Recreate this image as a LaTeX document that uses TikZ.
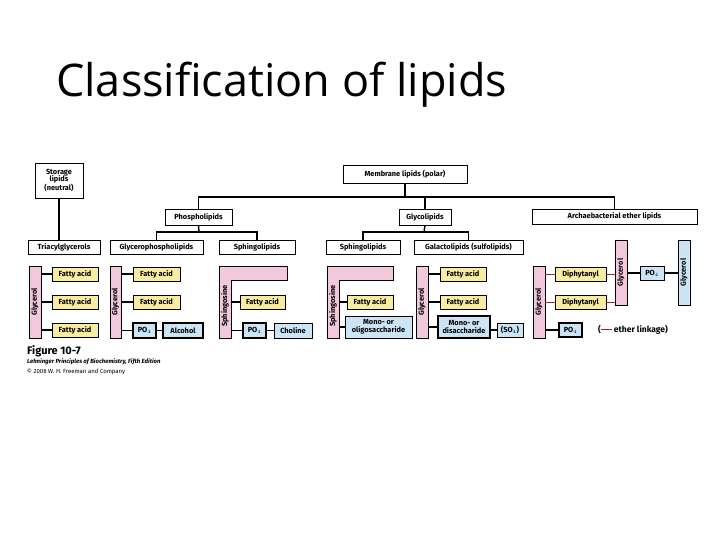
\documentclass[tikz,border=0pt]{standalone}
\usepackage{fontspec}
\setmainfont{Open Sans}
\newfontfamily\lab{Fira Sans}
\begin{document}
\begin{tikzpicture}[x=1pt,y=1pt,
  base/.style={draw=black,line width=0.6pt,inner sep=0pt,font=\lab\bfseries\fontsize{7.4}{7.8}\selectfont,align=center},
  wb/.style={base,fill=white},
  fa/.style={base,fill=fayel},
  pk/.style={base,fill=pinkc},
  bl/.style={base,fill=bluec},
  blk/.style={base,fill=bluec,line width=1.3pt},
  con/.style={draw=black,line width=1.4pt},
  vt/.style={rotate=90,font=\lab\bfseries\fontsize{7.4}{7.8}\selectfont,inner sep=0pt}]
\definecolor{fayel}{HTML}{F8EBA2}
\definecolor{pinkc}{HTML}{F1C8DC}
\definecolor{bluec}{HTML}{CBE5F6}
\definecolor{ethred}{HTML}{8E2A2A}
\newcommand\BX[7]{\node[#1,minimum width={#5pt-#3pt},minimum height={#6pt-#4pt}] (#2) at ({(#3+#5)/2},{540-(#4+#6)/2}) {#7};}
% horizontal connector as a filled bar between two named points
\newcommand\HL[3][black]{\fill[#1] ([shift={(-0.7pt,-0.7pt)}]#2) rectangle ([shift={(0.7pt,0.7pt)}]#3);}
\newcommand\HE[2]{\fill[ethred] ([shift={(0pt,-0.45pt)}]#1) rectangle ([shift={(0pt,0.45pt)}]#2);}
\useasboundingbox (0,0) rectangle (720,540);
\node[font=\fontsize{45}{50}\selectfont,anchor=base west,inner sep=0pt] (title) at (56,443) {Classification of lipids};
% top level
\BX{wb}{st}{35}{163}{83}{198}{Storage\\lipids\\(neutral)}
\BX{wb}{mem}{343}{165}{467}{183}{Membrane lipids (polar)}
\BX{wb}{pho}{165}{209}{232}{225}{Phospholipids}
\BX{wb}{gly}{399}{209}{451}{225}{Glycolipids}
\BX{wb}{arc}{532}{209}{697}{224}{Archaebacterial ether lipids}
\BX{wb}{tri}{28}{240}{100}{254}{Triacylglycerols}
\BX{wb}{gph}{110}{240}{203}{254}{Glycerophospholipids}
\BX{wb}{sp1}{219}{240}{295}{254}{Sphingolipids}
\BX{wb}{sp2}{326}{240}{400}{254}{Sphingolipids}
\BX{wb}{gal}{414}{240}{523}{254}{Galactolipids (sulfolipids)}
\draw[con] (st.south) -- (st.south |- tri.north);
\coordinate (h1) at (405,343);
\coordinate (a1) at (pho.north |- h1);
\coordinate (a2) at (arc.north |- h1);
\draw[con] (mem.south) -- (h1);
\draw[con] (pho.north) -- (a1);
\draw[con] (arc.north) -- (a2);
\HL{a1}{a2}
\draw[con] (gly.north) -- (gly.north |- h1);
\coordinate (h2) at (199,308);
\coordinate (b1) at (gph.north |- h2);
\coordinate (b2) at (sp1.north |- h2);
\draw[con] (pho.south) -- (h2);
\draw[con] (gph.north) -- (b1);
\draw[con] (sp1.north) -- (b2);
\HL{b1}{b2}
\coordinate (h3) at (424,308);
\coordinate (c1) at (sp2.north |- h3);
\coordinate (c2) at (gal.north |- h3);
\draw[con] (gly.south) -- (h3);
\draw[con] (sp2.north) -- (c1);
\draw[con] (gal.north) -- (c2);
\HL{c1}{c2}
% group 1
\BX{pk}{g1}{29}{266}{41}{338}{}
\node[vt] at (g1) {Glycerol};
\BX{fa}{f11}{52}{267}{98}{281}{Fatty acid}
\BX{fa}{f12}{52}{295}{98}{309}{Fatty acid}
\BX{fa}{f13}{52}{323}{98}{337}{Fatty acid}
\foreach \f in {f11,f12,f13} {\coordinate (q) at (g1.east |- \f.west); \HL{q}{\f.west}}
% group 2
\BX{pk}{g2}{110}{266}{121}{338}{}
\node[vt] at (g2) {Glycerol};
\BX{fa}{f21}{133}{267}{180}{281}{Fatty acid}
\BX{fa}{f22}{133}{295}{180}{309}{Fatty acid}
\BX{blk}{p2}{133}{323}{156}{338}{PO$_4$}
\BX{blk}{al}{163}{323}{203}{338}{Alcohol}
\foreach \f in {f21,f22,p2} {\coordinate (q) at (g2.east |- \f.west); \HL{q}{\f.west}}
\HL{p2.east}{al.west}
% group 3
\filldraw[fill=pinkc,line width=0.6pt] (219,274) -- (287,274) -- (287,260) -- (231,260) -- (231,202) -- (219,202) -- cycle;
\BX{base,draw=none}{s3}{219}{280}{231}{338}{}
\node[vt] at (225,234) {Sphingosine};
\BX{fa}{f31}{240}{295}{285}{309}{Fatty acid}
\BX{blk}{p3}{243}{323}{266}{338}{PO$_4$}
\BX{bl}{ch}{274}{323}{312}{338}{Choline}
\foreach \f in {f31,p3} {\coordinate (q) at (s3.east |- \f.west); \HL{q}{\f.west}}
\HL{p3.east}{ch.west}
% group 4
\filldraw[fill=pinkc,line width=0.6pt] (327,274) -- (393,274) -- (393,260) -- (339,260) -- (339,202) -- (327,202) -- cycle;
\BX{base,draw=none}{s4}{327}{280}{339}{338}{}
\node[vt] at (333,234) {Sphingosine};
\BX{fa}{f41}{347}{295}{393}{309}{Fatty acid}
\BX{bl}{mo}{345}{316}{412}{338}{Mono- or\\oligosaccharide}
\foreach \f in {f41,mo} {\coordinate (q) at (s4.east |- \f.west); \HL{q}{\f.west}}
% group 5
\BX{pk}{g5}{416}{266}{428}{338}{}
\node[vt] at (g5) {Glycerol};
\BX{fa}{f51}{440}{267}{486}{281}{Fatty acid}
\BX{fa}{f52}{440}{295}{486}{309}{Fatty acid}
\BX{blk}{md}{438}{316}{490}{338}{Mono- or\\disaccharide}
\BX{bl}{so}{497}{323}{523}{337}{(SO$_4$)}
\foreach \f in {f51,f52,md} {\coordinate (q) at (g5.east |- \f.west); \HL{q}{\f.west}}
\coordinate (q5) at (md.east |- so.west);
\HL{q5}{so.west}
% group 6
\BX{pk}{g6}{533}{266}{545}{338}{}
\node[vt] at (g6) {Glycerol};
\BX{fa}{d1}{555}{267}{606}{281}{Diphytanyl}
\BX{fa}{d2}{555}{295}{606}{309}{Diphytanyl}
\BX{pk}{g7}{615}{240}{627}{305}{}
\node[vt] at (g7) {Glycerol};
\BX{bl}{p6}{640}{266}{664}{280}{PO$_4$}
\BX{bl}{g8}{678}{240}{690}{305}{}
\node[vt] at (g8) {Glycerol};
\BX{blk}{p7}{559}{323}{582}{337}{PO$_4$}
\foreach \f in {d1,d2} {\coordinate (q) at (g6.east |- \f.west); \HE{q}{\f.west}
  \coordinate (r) at (g7.west |- \f.east); \HE{\f.east}{r}}
\coordinate (q6) at (g6.east |- p7.west); \HL{q6}{p7.west}
\coordinate (q7) at (g7.east |- p6.west); \HL{q7}{p6.west}
\coordinate (q8) at (g8.west |- p6.east); \HL{p6.east}{q8}
\node[font=\lab\bfseries\fontsize{8.5}{9}\selectfont,anchor=west,inner sep=0pt] (leg) at (598,210) {(\textcolor{ethred}{\rule[2.6pt]{11pt}{1.1pt}} ether linkage)};
% caption
\node[font=\lab\bfseries\fontsize{11}{12}\selectfont,anchor=west,inner sep=0pt] (fig) at (27,189) {Figure 10-7};
\node[font=\lab\bfseries\itshape\fontsize{6}{7}\selectfont,anchor=west,inner sep=0pt] (cap1) at (27,178) {Lehninger Principles of Biochemistry, Fifth Edition};
\node[font=\lab\fontsize{6}{7}\selectfont,anchor=west,inner sep=0pt] (cap2) at (27,168) {\textcopyright{} 2008 W. H. Freeman and Company};
\end{tikzpicture}
\end{document}
